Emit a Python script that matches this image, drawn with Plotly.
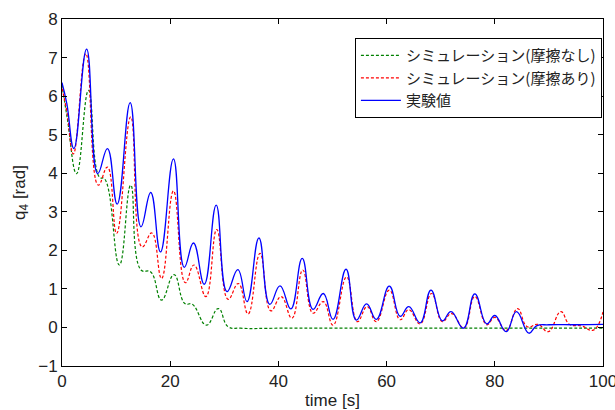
import plotly.graph_objects as go

# Experimental (実験値)
t_exp = [0, 0.9, 2.2, 4.55, 6.6, 8.4, 10.2, 12.6, 14.6, 16.4, 18.2, 20.6, 22.6, 24.3, 26.3,
         28.5, 30.5, 32.5, 34.2, 36.4, 38.4, 40.3, 42.3, 44.4, 46.4, 48.3, 50.1, 52.5,
         54.4, 56.3, 58.1, 60.5, 62.5, 64.1, 66.2, 68.2, 70.3, 71.9, 74.2, 76.3, 78.5,
         80.0, 82.1, 84.0, 86.3, 87.7, 90, 95, 100]
q_exp = [6.35, 5.8, 4.64, 7.22, 3.99, 4.64, 3.2, 5.83, 2.61, 3.5, 1.96, 4.37, 1.56, 2.19, 1.12,
         3.17, 0.93, 1.5, 0.67, 2.32, 0.6, 1.08, 0.48, 1.79, 0.47, 0.88, 0.21, 1.51,
         0.19, 0.61, 0.21, 1.07, 0.29, 0.54, 0.12, 0.97, 0.17, 0.41, -0.02, 0.87, 0.09,
         0.31, -0.11, 0.41, -0.15, 0.04, 0.07, 0.07, 0.08]

# Simulation with friction (摩擦あり)
t_fric = [0, 0.9, 2.1, 4.4, 6.7, 8.4, 10.1, 12.7, 14.8, 16.6, 18.4, 20.6, 22.8, 24.4, 26.6,
          28.6, 30.7, 32.6, 34.4, 36.6, 38.6, 40.5, 42.5, 44.5, 46.4, 48.3, 50.1, 52.6,
          54.6, 56.4, 58.1, 60.5, 62.5, 64.1, 66.2, 68.3, 70.3, 72.0, 74.3, 76.3, 78.5,
          80.0, 82.1, 84.2, 86.0, 88.0, 89.9, 92.2, 93.8, 96, 98.2, 100]
q_fric = [6.2, 5.6, 4.5, 7.1, 3.69, 4.16, 2.44, 5.46, 2.09, 2.45, 1.27, 3.54, 1.16, 1.62, 0.8,
          2.54, 0.73, 1.14, 0.35, 1.92, 0.43, 0.8, 0.24, 1.49, 0.37, 0.67, 0.06, 1.31,
          0.15, 0.54, 0.15, 0.97, 0.2, 0.46, 0.09, 0.88, 0.15, 0.36, -0.01, 0.8, 0.07,
          0.26, -0.08, 0.49, 0.02, 0.08, -0.11, 0.41, 0.08, 0.04, -0.07, 0.4]

# Simulation without friction (摩擦なし)
t_nofric = [0, 1.0, 2.7, 4.9, 6.9, 7.9, 10.6, 12.7, 14.6, 16.4, 18.4, 20.7, 22.7, 24.1,
            26.7, 28.9, 30.7, 33, 40, 50, 60, 70, 80, 90, 100]
q_nofric = [6.3, 5.4, 3.99, 6.15, 3.9, 3.85, 1.62, 3.69, 1.49, 1.44, 0.71, 1.37, 0.62, 0.6,
            0.06, 0.49, 0.02, -0.02, -0.02, -0.02, -0.02, -0.02, -0.02, -0.02, -0.02]

names = ["シミュレーション(摩擦なし)", "シミュレーション(摩擦あり)", "実験値"]
x_ticks = [0, 20, 40, 60, 80, 100]
y_ticks = [-1, 0, 1, 2, 3, 4, 5, 6, 7, 8]

fig = go.Figure()
fig.add_trace(go.Scatter(x=t_nofric, y=q_nofric, mode="lines", name=names[0],
                         line=dict(color="#008000", width=1.2, dash="3px,2px",
                                   shape="spline", smoothing=1.3)))
fig.add_trace(go.Scatter(x=t_fric, y=q_fric, mode="lines", name=names[1],
                         line=dict(color="#ff0000", width=1.2, dash="3px,2px",
                                   shape="spline", smoothing=1.3)))
fig.add_trace(go.Scatter(x=t_exp, y=q_exp, mode="lines", name=names[2],
                         line=dict(color="#0000ff", width=1.3, shape="spline", smoothing=1.3)))

axis_common = dict(showline=True, linecolor="black", linewidth=1, mirror="ticks",
                   ticks="inside", ticklen=5, tickcolor="black", showgrid=False,
                   zeroline=False, automargin=False, ticklabeloverflow="allow",
                   tickfont=dict(size=17, color="#222"))

fig.update_layout(
    width=615, height=410,
    margin=dict(l=62, r=12, t=19, b=44),
    paper_bgcolor="white", plot_bgcolor="white",
    font=dict(family="Liberation Sans, Arial, sans-serif", color="#222"),
    xaxis=dict(range=[0, 100], tickvals=x_ticks,
               title=dict(text="time [s]", font=dict(size=17), standoff=4), **axis_common),
    yaxis=dict(range=[-1, 8], tickvals=y_ticks,
               title=dict(text="q<sub>4</sub> [rad]", font=dict(size=17), standoff=8), **axis_common),
    legend=dict(x=0.998, y=0.945, xanchor="right", yanchor="top",
                bordercolor="black", borderwidth=1, bgcolor="white",
                font=dict(family="Noto Sans CJK JP", size=15, color="#222"),
                tracegroupgap=0, itemwidth=40),
    showlegend=True,
)

fig.write_html("out.html")
